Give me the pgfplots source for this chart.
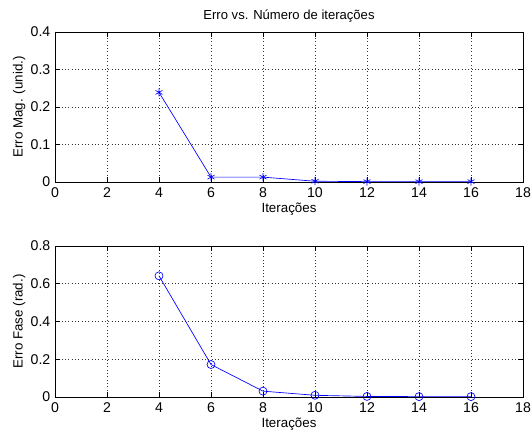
\documentclass[border=0pt]{standalone}
\usepackage{fontspec}
\setmainfont{Liberation Sans}
\usepackage{pgfplots}
\pgfplotsset{compat=1.18}

\pgfplotsset{
  mlab/.style={
    scale only axis,
    width=351pt,
    height=112.5pt,
    xmin=0, xmax=18,
    xtick={0,2,...,18},
    ymin=0,
    grid=major,
    major grid style={black!80, dash pattern=on 0.5pt off 2pt, line width=0.4pt},
    axis line style={black, line width=0.5pt},
    tick style={black, line width=0.5pt},
    tick align=inside,
    major tick length=3.5pt,
    ticklabel style={font=\fontsize{10.6}{12}\selectfont},
    xticklabel style={yshift=-1pt},
    label style={font=\fontsize{10}{12}\selectfont},
    xlabel={Iterações},
    xlabel style={yshift=3.5pt},
    ylabel style={yshift=-3pt},
    /pgf/number format/assume math mode=true,
    yticklabel style={/pgf/number format/fixed, /pgf/number format/precision=1},
  }
}

\begin{document}
\begin{tikzpicture}
\path[use as bounding box] (0,0) rectangle (399pt,327pt);

\begin{axis}[mlab,
  at={(41.25pt,190.5pt)}, anchor=origin,
  ymax=0.4,
  ytick={0,0.1,...,0.4},
  ylabel={Erro Mag. (unid.)},
  title={Erro vs. Número de iterações},
  title style={font=\fontsize{9.8}{11}\selectfont, yshift=-2pt},
]
\addplot[blue, line width=0.5pt, mark=asterisk, mark size=3pt] coordinates {
  (4,0.239) (6,0.013) (8,0.013) (10,0.002) (12,0.001) (14,0.001) (16,0.001)
};
\end{axis}

\begin{axis}[mlab,
  at={(41.25pt,29.25pt)}, anchor=origin,
  height=113.25pt,
  ymax=0.8,
  ytick={0,0.2,...,0.8},
  ylabel={Erro Fase (rad.)},
]
\addplot[blue, line width=0.5pt, mark=o, mark size=3pt] coordinates {
  (4,0.642) (6,0.172) (8,0.031) (10,0.009) (12,0.003) (14,0.002) (16,0.002)
};
\end{axis}
\end{tikzpicture}
\end{document}
